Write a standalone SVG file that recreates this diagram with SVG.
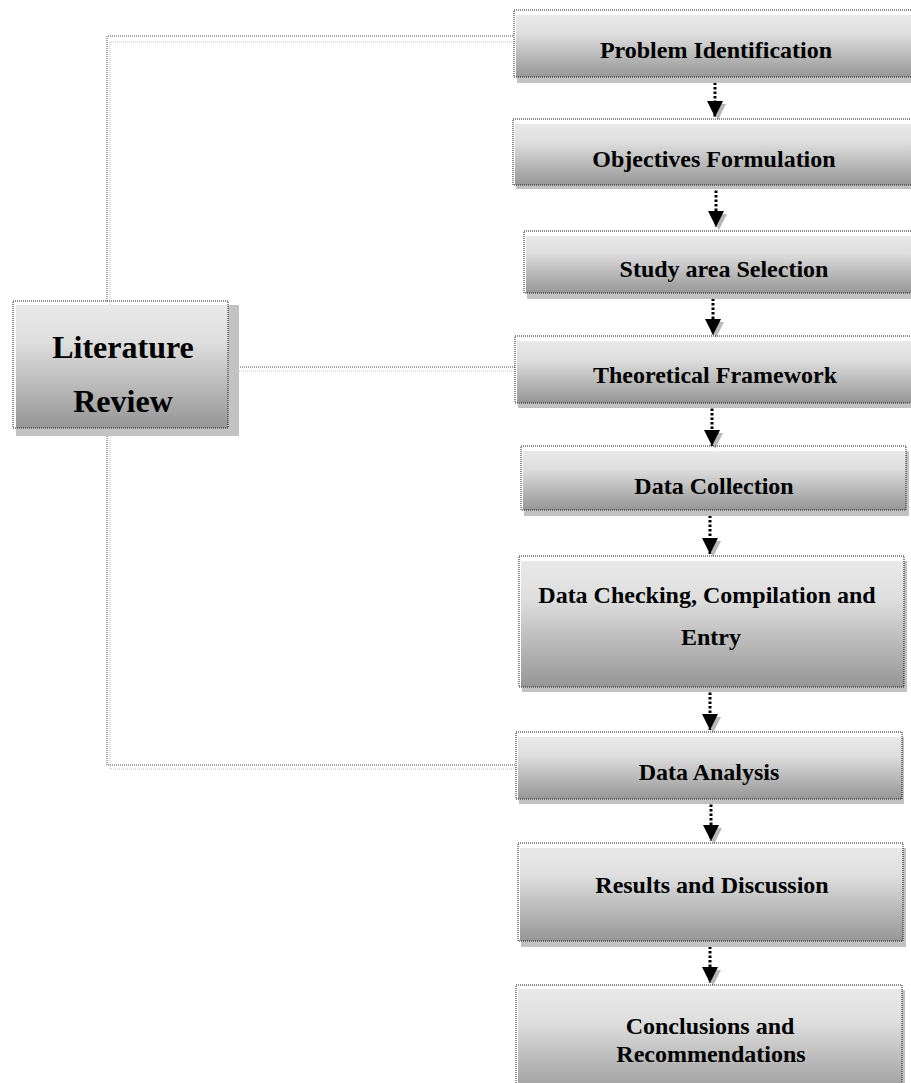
<svg xmlns="http://www.w3.org/2000/svg" width="911" height="1083" viewBox="0 0 911 1083">
<defs>
<linearGradient id="g" x1="0" y1="0" x2="0" y2="1">
<stop offset="0" stop-color="#e9e9e9"/>
<stop offset="0.3" stop-color="#dedede"/>
<stop offset="1" stop-color="#969696"/>
</linearGradient>
<marker id="ah" viewBox="0 0 20 20" markerWidth="20" markerHeight="20" refX="8" refY="16" orient="0" markerUnits="userSpaceOnUse">
<path d="M3 3 L19 3 L11 19 Z" fill="#b8b8b8"/>
<path d="M0 0 L16 0 L8 16 Z" fill="#000"/>
</marker>
</defs>
<style>
.sh{fill:#c2c2c2}
.fi{fill:url(#g)}
.bd{fill:none;stroke:#1a1a1a;stroke-width:1;stroke-dasharray:1 1}
.t{font-family:"Liberation Serif","Times New Roman",serif;font-weight:bold;font-size:24px;fill:#000;text-anchor:middle}
.lt{font-size:32px}
.cn{fill:none;stroke:#555;stroke-width:1;stroke-dasharray:1 1}
.cs{fill:none;stroke:#c4c4c4;stroke-width:1;stroke-dasharray:1 1}
.ar{fill:none;stroke:#000;stroke-width:3;stroke-dasharray:2.5 2}
</style>
<rect width="911" height="1083" fill="#fff"/>
<g id="connectors">
<path class="cs" d="M110 305 V42 H516"/>
<path class="cn" d="M107 301 V36 H514"/>
<path class="cs" d="M231 371 H518"/>
<path class="cn" d="M228 367 H515"/>
<path class="cs" d="M110 432 V769 H518"/>
<path class="cn" d="M107 428 V765 H516"/>
<path class="ar" d="M715 78 V117" marker-end="url(#ah)"/>
<path class="ar" d="M716 186 V227" marker-end="url(#ah)"/>
<path class="ar" d="M713 294 V335" marker-end="url(#ah)"/>
<path class="ar" d="M712 404 V446" marker-end="url(#ah)"/>
<path class="ar" d="M710 511 V554" marker-end="url(#ah)"/>
<path class="ar" d="M710 688 V730" marker-end="url(#ah)"/>
<path class="ar" d="M711 800 V841" marker-end="url(#ah)"/>
<path class="ar" d="M710 942 V983" marker-end="url(#ah)"/>
</g>
<g id="literature-review">
<rect class="sh" x="16" y="305" width="223" height="131"/>
<rect class="fi" x="16" y="305" width="212" height="123"/>
<rect class="bd" x="13" y="301" width="215" height="127"/>
<text class="t lt" x="123" y="358">Literature</text>
<text class="t lt" x="123" y="412">Review</text>
</g>
<g id="problem-identification">
<rect class="sh" x="517" y="15" width="400" height="68"/>
<rect class="fi" x="516" y="15" width="400" height="62"/>
<rect class="bd" x="514" y="10" width="402" height="67"/>
<text class="t" x="716" y="58">Problem Identification</text>
</g>
<g id="objectives-formulation">
<rect class="sh" x="516" y="124" width="400" height="65"/>
<rect class="fi" x="515" y="124" width="400" height="61"/>
<rect class="bd" x="513" y="119" width="403" height="66"/>
<text class="t" x="714" y="167">Objectives Formulation</text>
</g>
<g id="study-area-selection">
<rect class="sh" x="527" y="236" width="390" height="63"/>
<rect class="fi" x="526" y="236" width="390" height="57"/>
<rect class="bd" x="524" y="231" width="392" height="62"/>
<text class="t" x="724" y="277">Study area Selection</text>
</g>
<g id="theoretical-framework">
<rect class="sh" x="518" y="341" width="400" height="67"/>
<rect class="fi" x="517" y="341" width="400" height="62"/>
<rect class="bd" x="515" y="336" width="401" height="67"/>
<text class="t" x="715" y="383">Theoretical Framework</text>
</g>
<g id="data-collection">
<rect class="sh" x="524" y="451" width="385" height="65"/>
<rect class="fi" x="523" y="451" width="383" height="59"/>
<rect class="bd" x="521" y="446" width="385" height="64"/>
<text class="t" x="714" y="494">Data Collection</text>
</g>
<g id="data-checking">
<rect class="sh" x="522" y="561" width="385" height="131"/>
<rect class="fi" x="521" y="561" width="383" height="126"/>
<rect class="bd" x="519" y="556" width="385" height="131"/>
<text class="t" x="707" y="603">Data Checking, Compilation and</text>
<text class="t" x="711" y="645">Entry</text>
</g>
<g id="data-analysis">
<rect class="sh" x="519" y="737" width="385" height="67"/>
<rect class="fi" x="518" y="737" width="384" height="62"/>
<rect class="bd" x="516" y="732" width="386" height="67"/>
<text class="t" x="709" y="780">Data Analysis</text>
</g>
<g id="results-discussion">
<rect class="sh" x="521" y="848" width="385" height="99"/>
<rect class="fi" x="520" y="848" width="383" height="93"/>
<rect class="bd" x="518" y="843" width="385" height="98"/>
<text class="t" x="712" y="893">Results and Discussion</text>
</g>
<g id="conclusions-recommendations">
<rect class="sh" x="519" y="990" width="386" height="110"/>
<rect class="fi" x="518" y="989" width="384" height="110"/>
<rect class="bd" x="516" y="985" width="386" height="115"/>
<text class="t" x="710" y="1034">Conclusions and</text>
<text class="t" x="711" y="1062">Recommendations</text>
</g>
</svg>
